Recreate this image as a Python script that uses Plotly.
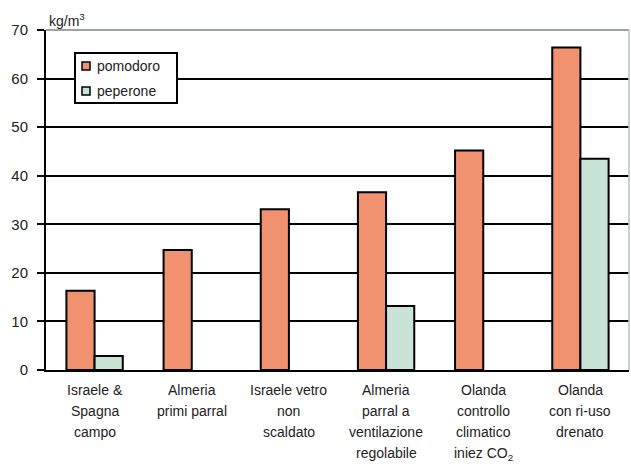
import plotly.graph_objects as go

# Yield per cubic metre of water, by growing system
categories = ["Israele & Spagna campo", "Almeria primi parral", "Israele vetro non scaldato",
              "Almeria parral a ventilazione regolabile", "Olanda controllo climatico iniez CO2",
              "Olanda con ri-uso drenato"]
label_lines = [
    ["Israele &", "Spagna", "campo"],
    ["Almeria", "primi parral"],
    ["Israele vetro", "non", "scaldato"],
    ["Almeria", "parral a", "ventilazione", "regolabile"],
    ["Olanda", "controllo", "climatico", "iniez CO<sub>2</sub>"],
    ["Olanda", "con ri-uso", "drenato"],
]
pomodoro = [16.3, 24.7, 33.1, 36.6, 45.2, 66.4]
peperone = [2.9, None, None, 13.2, None, 43.5]
y_ticks = [0, 10, 20, 30, 40, 50, 60, 70]

FONT = "Liberation Sans, Arial, sans-serif"
TEXT = "#222"
BAR_LINE = dict(color="black", width=2)
COLORS = {"pomodoro": "#F0916F", "peperone": "#C9E4D6"}

# plot area in pixels, used to place the hand-drawn legend
L, T, W, H = 46, 30, 583, 340
def px(x):
    return (x - L) / W
def py(y):
    return (T + H - y) / H

fig = go.Figure()
fig.add_trace(go.Bar(x=categories, y=pomodoro, name="pomodoro",
                     marker=dict(color=COLORS["pomodoro"], line=BAR_LINE)))
fig.add_trace(go.Bar(x=categories, y=peperone, name="peperone",
                     marker=dict(color=COLORS["peperone"], line=BAR_LINE)))

# multi-line category labels, one annotation per line for wider line spacing
for cat, lines in zip(categories, label_lines):
    for j, line in enumerate(lines):
        fig.add_annotation(x=cat, xref="x", y=0, yref="paper", yanchor="top",
                           yshift=-10 - 21 * j, text=line, showarrow=False,
                           font=dict(family=FONT, size=14, color=TEXT))

fig.add_annotation(x=0, xref="paper", y=1, yref="paper", xanchor="left", yanchor="bottom",
                   xshift=1, yshift=-1, text="kg/m<sup>3</sup>", showarrow=False,
                   font=dict(family=FONT, size=14, color=TEXT))

# light frame on top and right of the plot area
fig.add_shape(type="line", xref="paper", yref="paper", x0=0, x1=1, y0=1, y1=1,
              line=dict(color="#9aa4a4", width=2))
fig.add_shape(type="line", xref="paper", yref="paper", x0=1, x1=1, y0=0, y1=1,
              line=dict(color="#b8c0c0", width=1.5))

# legend box with small square swatches
fig.add_shape(type="rect", xref="paper", yref="paper", x0=px(75), x1=px(177),
              y0=py(103), y1=py(53), line=dict(color="black", width=2), fillcolor="white")
for name, cy in (("pomodoro", 66), ("peperone", 91)):
    fig.add_shape(type="rect", xref="paper", yref="paper", x0=px(82), x1=px(90),
                  y0=py(cy + 4), y1=py(cy - 4), line=dict(color="black", width=1.5),
                  fillcolor=COLORS[name])
    fig.add_annotation(x=px(95), xref="paper", y=py(cy), yref="paper", xanchor="left",
                       yanchor="middle", text=name, showarrow=False,
                       font=dict(family=FONT, size=14, color=TEXT))

fig.update_layout(
    width=631, height=464,
    margin=dict(l=L, r=631 - L - W, t=T, b=464 - T - H),
    paper_bgcolor="white", plot_bgcolor="white",
    barmode="group", bargap=0.42, bargroupgap=0,
    font=dict(family=FONT, size=14, color=TEXT),
    showlegend=False,
    xaxis=dict(showticklabels=False, ticks="", showline=True, linecolor="black",
               linewidth=2, showgrid=False, fixedrange=True),
    yaxis=dict(range=[0, 70], tickvals=y_ticks, showline=True, linecolor="black",
               linewidth=2, ticks="outside", ticklen=7, tickwidth=2, tickcolor="black",
               ticklabelstandoff=6,
               showgrid=True, gridcolor="black", gridwidth=2, zeroline=False,
               tickfont=dict(family=FONT, size=15, color=TEXT)),
)

fig.write_html("out.html")
